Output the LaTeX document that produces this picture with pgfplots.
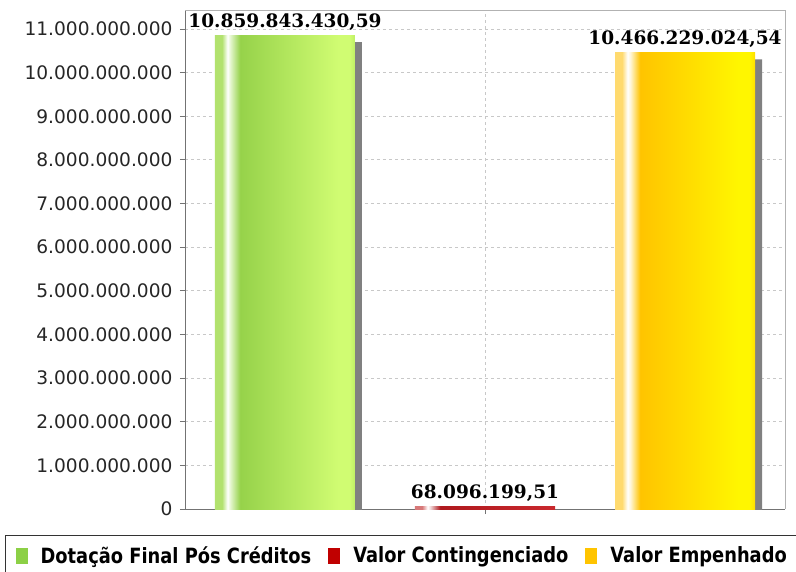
\documentclass[border=0pt]{standalone}
\usepackage{fontspec}
\setmainfont{DejaVu Sans}
\newfontfamily\valfont{DejaVu Serif}
\newfontfamily\legfont[FakeStretch=0.85]{DejaVu Sans}
\usepackage{pgfplots}
\pgfplotsset{compat=1.18}

% bar colours (left strip, highlight, body start, body end, edge)
\definecolor{gA}{RGB}{178,226,110}
\definecolor{gB}{RGB}{228,246,205}
\definecolor{gC}{RGB}{150,210,74}
\definecolor{gD}{RGB}{208,252,114}
\definecolor{gE}{RGB}{190,238,100}
\definecolor{rA}{RGB}{215,120,120}
\definecolor{rB}{RGB}{240,215,215}
\definecolor{rC}{RGB}{175,25,30}
\definecolor{rD}{RGB}{200,40,45}
\definecolor{yA}{RGB}{255,218,110}
\definecolor{yB}{RGB}{255,246,215}
\definecolor{yC}{RGB}{255,196,0}
\definecolor{yD}{RGB}{255,246,0}
\definecolor{yE}{RGB}{255,222,0}
\definecolor{gLeg}{RGB}{140,208,70}
\definecolor{rLeg}{RGB}{192,0,0}
\definecolor{yLeg}{RGB}{255,196,0}
\definecolor{shadow}{RGB}{128,128,128}
\definecolor{gridc}{RGB}{200,200,200}

% tikz fits the middle 25bp..75bp onto the bar
\pgfdeclarehorizontalshading{greenbar}{100bp}{color(0bp)=(gA); color(25bp)=(gA); color(27.5bp)=(gA); color(29.5bp)=(white); color(30.5bp)=(gB); color(34bp)=(gC); color(69bp)=(gD); color(73bp)=(gD); color(75bp)=(gE); color(100bp)=(gE)}
\pgfdeclarehorizontalshading{redbar}{100bp}{color(0bp)=(rA); color(25bp)=(rA); color(27.5bp)=(rA); color(29.5bp)=(white); color(30.5bp)=(rB); color(34bp)=(rC); color(73bp)=(rD); color(75bp)=(rD); color(100bp)=(rD)}
\pgfdeclarehorizontalshading{yellowbar}{100bp}{color(0bp)=(yA); color(25bp)=(yA); color(27.5bp)=(yA); color(29.5bp)=(white); color(30.5bp)=(yB); color(34bp)=(yC); color(69bp)=(yD); color(73bp)=(yD); color(75bp)=(yE); color(100bp)=(yE)}

% solid legend square, drawn on the basic layer so the bar shading is not used
\newcommand\legsquare[1]{\pgfsetfillcolor{#1}\pgfpathrectangle{\pgfpoint{0bp}{-8bp}}{\pgfpoint{12bp}{16bp}}\pgfusepath{fill}}

\begin{document}
\begin{tikzpicture}
\begin{axis}[
  scale only axis, width=600bp, height=499bp,
  xmin=-0.5, xmax=2.5, ymin=0, ymax=11435000000,
  ybar, bar width=140bp, bar shift=0bp,
  axis x line*=bottom, axis y line*=left,
  axis line style={draw=black!55, line width=0.8bp},
  xtick={1}, xticklabels={},
  ytick={0,1000000000,2000000000,3000000000,4000000000,5000000000,6000000000,7000000000,8000000000,9000000000,10000000000,11000000000},
  scaled y ticks=false,
  yticklabel style={xshift=-4bp, /pgf/number format/.cd, fixed, precision=0, 1000 sep={.}, assume math mode=true},
  tick label style={font=\fontsize{18.6bp}{20bp}\selectfont, text=black!85},
  tick align=outside, major tick length=5bp, tick style={draw=black!55, line width=0.8bp},
  xmajorgrids, ymajorgrids,
  grid style={draw=gridc, line width=0.8bp, dash pattern=on 3bp off 3bp},
  point meta=explicit symbolic,
  nodes near coords style={font={\valfont\bfseries\fontsize{18.5bp}{20bp}\selectfont}, anchor=base, yshift=8bp},
  legend columns=3,
  legend style={at={(axis description cs:-0.3,-0.0521)}, anchor=north west,
    draw=black!80, line width=1.2bp, inner xsep=10bp, inner ysep=11bp,
    font={\legfont\bfseries\fontsize{21bp}{24bp}\selectfont},
    nodes={inner sep=0pt},
    /tikz/every odd column/.append style={column sep=13bp},
    /tikz/every even column/.append style={column sep=17bp}},
]
% drop shadows behind the bars
\addplot[forget plot, fill=shadow, draw=none, xshift=7bp, yshift=-7bp]
  coordinates {(0,10859843430.59) (1,68096199.51) (2,10466229024.54)};

\addplot[draw=none, shade, shading=greenbar, nodes near coords,
  legend image code/.code={\legsquare{gLeg}}]
  coordinates {(0,10859843430.59) [10.859.843.430,59]};
\addlegendentry{Dotação Final Pós Créditos}

\addplot[draw=none, shade, shading=redbar, nodes near coords,
  legend image code/.code={\legsquare{rLeg}}]
  coordinates {(1,68096199.51) [68.096.199,51]};
\addlegendentry{Valor Contingenciado}

\addplot[draw=none, shade, shading=yellowbar, nodes near coords,
  legend image code/.code={\legsquare{yLeg}}]
  coordinates {(2,10466229024.54) [10.466.229.024,54]};
\addlegendentry{Valor Empenhado}
\end{axis}
\draw[black!30, line width=0.8bp] (current axis.north west) -- (current axis.north east) -- (current axis.south east);
\pgfresetboundingbox
\path[use as bounding box] (-185bp,-63bp) rectangle (611bp,509bp);
\end{tikzpicture}
\end{document}
